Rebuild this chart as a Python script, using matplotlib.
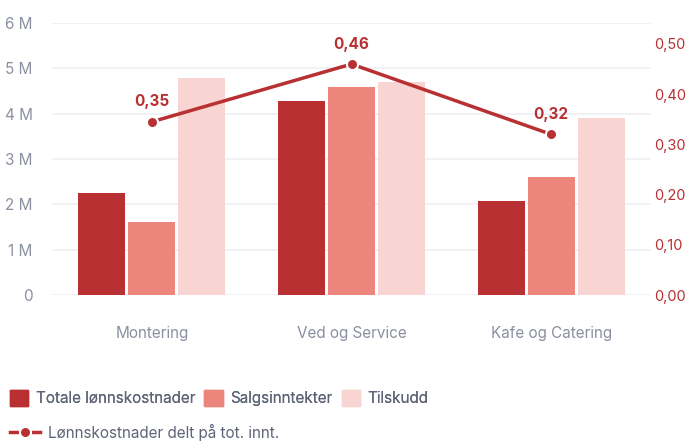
import matplotlib.pyplot as plt
from matplotlib.patches import Patch
from matplotlib.lines import Line2D
import numpy as np

plt.rcParams['font.family'] = ['Inter', 'DejaVu Sans']

categories = ["Montering", "Ved og Service", "Kafe og Catering"]
lonnskost = [2.25, 4.28, 2.07]
salg = [1.61, 4.59, 2.60]
tilskudd = [4.79, 4.70, 3.90]
andel = [0.345, 0.46, 0.32]
andel_labels = ["0,35", "0,46", "0,32"]

names = ["Totale lønnskostnader", "Salgsinntekter", "Tilskudd"]
line_name = "Lønnskostnader delt på tot. innt."
colors = ["#B83032", "#EC857B", "#F8D5D2"]
red = "#B83032"
grey = "#8A90A0"

fig = plt.figure(figsize=(6.93, 4.42), dpi=100)
ax = fig.add_axes([52/693, 147/442, 599/693, 272/442])

x = np.arange(len(categories))
w = 0.235
for i, vals in enumerate([lonnskost, salg, tilskudd]):
    ax.bar(x + (i - 1) * 0.25, vals, width=w, color=colors[i], zorder=2)

ax.set_xlim(-0.5, 2.5)
ax.set_ylim(0, 6)
ax.set_yticks(range(7))
ax.set_yticklabels(["0"] + ["%d M" % v for v in range(1, 7)])
ax.set_xticks(x)
ax.set_xticklabels(categories)
ax.grid(axis="y", color="#F0F0F2", linewidth=1.2, zorder=0)
ax.tick_params(length=0, labelsize=11, labelcolor=grey)
ax.tick_params(axis="y", pad=14)
ax.tick_params(axis="x", pad=22)
for s in ax.spines.values():
    s.set_visible(False)

ax2 = ax.twinx()
ax2.set_ylim(0, 0.5418)
ax2.set_yticks([0, 0.1, 0.2, 0.3, 0.4, 0.5])
ax2.set_yticklabels(["0,00", "0,10", "0,20", "0,30", "0,40", "0,50"])
ax2.tick_params(length=0, labelsize=10.5, labelcolor=red, pad=2)
for s in ax2.spines.values():
    s.set_visible(False)
ax2.plot(x, andel, color=red, linewidth=2.5, marker="o", markersize=8,
         markeredgecolor="white", markeredgewidth=1.5, zorder=3)
for xi, v, lab in zip(x, andel, andel_labels):
    ax2.annotate(lab, (xi, v), xytext=(0, 9), textcoords="offset points",
                 ha="center", va="bottom", color=red, fontsize=11, fontweight="bold")

handles = [Patch(color=c) for c in colors]
leg1 = fig.legend(handles, names, loc="lower left", bbox_to_anchor=(-0.006, 0.05),
                  ncol=3, frameon=False, fontsize=11, handlelength=1.2, handleheight=1.2,
                  handletextpad=0.5, columnspacing=0.6, labelcolor="#5F6577")
fig.add_artist(leg1)
lh = Line2D([], [], color=red, linewidth=2.5, marker="o", markersize=8,
            markeredgecolor="white", markeredgewidth=1.5)
fig.legend([lh], [line_name], loc="lower left", bbox_to_anchor=(-0.006, -0.028),
           frameon=False, fontsize=11, handlelength=2.0, handletextpad=0.5,
           labelcolor="#5F6577")

fig.savefig("out.png", dpi=100)
